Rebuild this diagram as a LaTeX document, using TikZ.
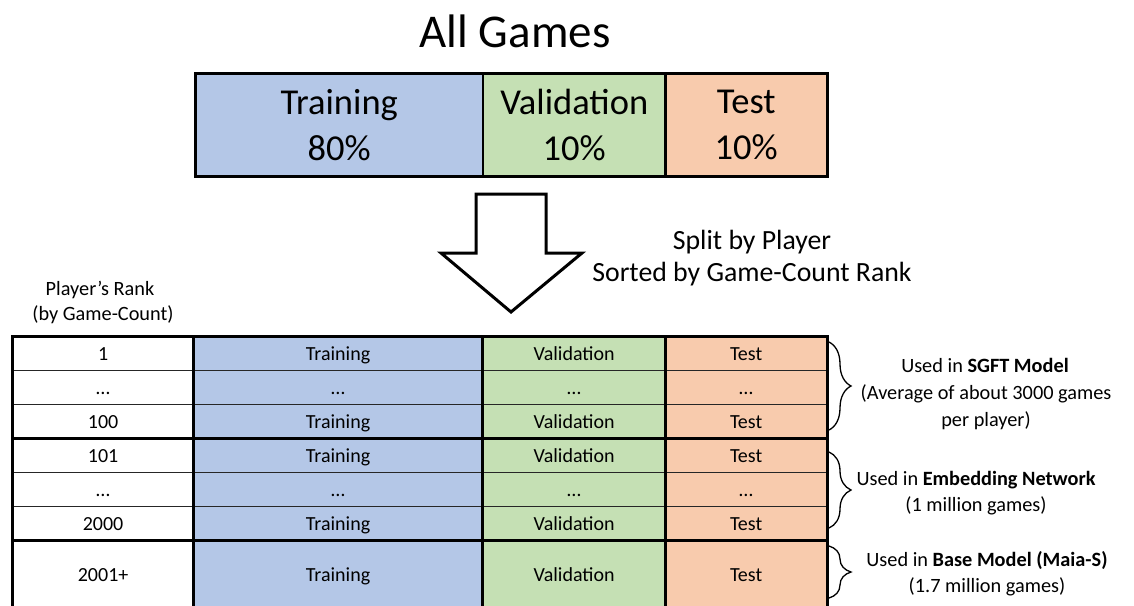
\documentclass[tikz,border=0pt]{standalone}
\usepackage{fontspec}
\setmainfont{Carlito}
\usetikzlibrary{decorations.pathreplacing}
\definecolor{trainc}{HTML}{B4C7E7}
\definecolor{valc}{HTML}{C5E0B4}
\definecolor{testc}{HTML}{F8CBAD}
\definecolor{gridc}{HTML}{262626}
\begin{document}
\begin{tikzpicture}[x=1pt,y=-1pt,
  cell/.style={draw=gridc, line width=1.2pt, inner sep=0pt, anchor=north west,
    font=\fontsize{20}{24}\selectfont, text height=13pt, text depth=0pt},
  thickline/.style={line width=3pt, black},
  barcell/.style={draw=black, line width=1.5pt, inner sep=0pt, anchor=north west,
    minimum height=102pt, align=center, font=\fontsize{36.5}{46}\selectfont},
  lbl/.style={inner sep=0pt, font=\fontsize{20.3}{24}\selectfont, text height=13pt, text depth=0pt},
  splitlbl/.style={inner sep=0pt, font=\fontsize{27.8}{32}\selectfont, text height=18pt, text depth=0pt},
  bigarrow/.style={draw=black, line width=3pt, fill=white, line join=miter},
  bracestyle/.style={decorate, decoration={brace, amplitude=22pt, aspect=0.5}, line width=1.3pt},
]
\useasboundingbox (0,0) rectangle (1134,605);
\clip (0,0) rectangle (1134,605);

% title
\node[inner sep=0pt, font=\fontsize{47}{56}\selectfont, text height=30pt, text depth=0pt] (title) at (515,32) {All Games};

% top bar
\node[barcell, fill=trainc, minimum width=287pt] (tb1) at (195,73) {Training\\80\%};
\node[barcell, fill=valc, minimum width=183pt] (tb2) at (482,73) {Validation\\10\%};
\node[barcell, fill=testc, minimum width=161pt] (tb3) at (665,73) {Test\\10\%};
\draw[thickline] (tb1.north west) rectangle (tb3.south east);
\draw[thickline] (tb3.north west) -- (tb3.south west);

% big arrow
\draw[bigarrow] (476,194) -- (546,194) -- (546,253) -- (582,253) -- (511,312) -- (441,253) -- (476,253) -- cycle;

\node[splitlbl] (split1) at (752,240) {Split by Player};
\node[splitlbl] (split2) at (752,272) {Sorted by Game-Count Rank};

\node[lbl] (pr1) at (100,289) {Player’s Rank};
\node[lbl] (pr2) at (103,314) {(by Game-Count)};

% table
\foreach \r/\y/\h/\rank/\tr/\va/\te in {
  1/336/34/1/Training/Validation/Test,
  2/370/34/…/…/…/…,
  3/404/34/100/Training/Validation/Test,
  4/438/34/101/Training/Validation/Test,
  5/472/34/…/…/…/…,
  6/506/34/2000/Training/Validation/Test,
  7/540/68/2001+/Training/Validation/Test}{
  \node[cell, fill=white, minimum width=181pt, minimum height=\h pt] (r\r c1) at (12,\y) {\rank};
  \node[cell, fill=trainc, minimum width=289pt, minimum height=\h pt] (r\r c2) at (193,\y) {\tr};
  \node[cell, fill=valc, minimum width=183pt, minimum height=\h pt] (r\r c3) at (482,\y) {\va};
  \node[cell, fill=testc, minimum width=161pt, minimum height=\h pt] (r\r c4) at (665,\y) {\te};
}
\draw[thickline] (r1c1.north west) rectangle (r7c4.south east);
\draw[thickline] (r1c2.north west) -- (r7c2.south west);
\draw[thickline] (r1c3.north west) -- (r7c3.south west);
\draw[thickline] (r1c4.north west) -- (r7c4.south west);
\draw[thickline] (r4c1.north west) -- (r4c4.north east);
\draw[thickline] (r7c1.north west) -- (r7c4.north east);

% braces
\draw[bracestyle] (829,342) -- (829,430);
\draw[bracestyle] (829,452) -- (829,528);
\draw[bracestyle] (829,546) -- (829,598);

\node[lbl] (u1a) at (985,366) {Used in \textbf{SGFT Model}};
\node[lbl] (u1b) at (986,393) {(Average of about 3000 games};
\node[lbl] (u1c) at (986,420) {per player)};
\node[lbl] (u2a) at (976,479) {Used in \textbf{Embedding Network}};
\node[lbl] (u2b) at (976,505) {(1 million games)};
\node[lbl] (u3a) at (987,560) {Used in \textbf{Base Model (Maia-S)}};
\node[lbl] (u3b) at (987,586) {(1.7 million games)};
\end{tikzpicture}
\end{document}
